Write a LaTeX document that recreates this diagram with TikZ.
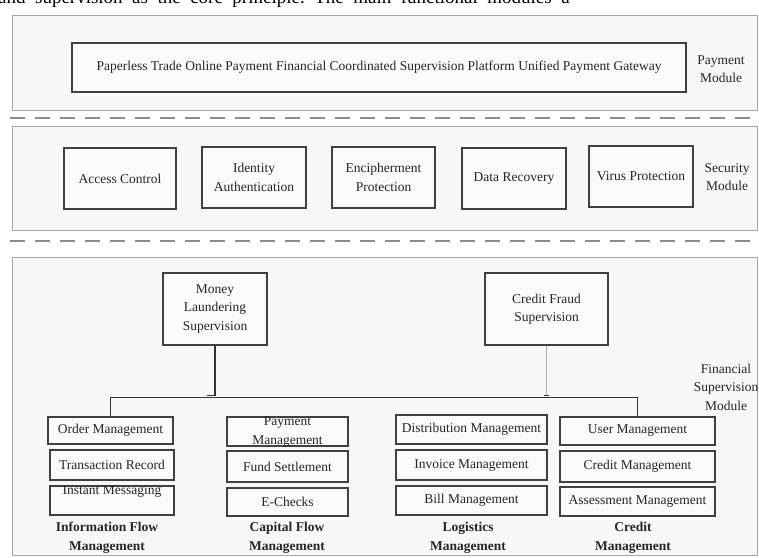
\documentclass[tikz,border=0pt]{standalone}
\usepackage{fontspec}
\setmainfont{Liberation Serif}
\begin{document}
\begin{tikzpicture}[x=1pt,y=-1pt,
  every node/.style={text=black!85, font=\fontsize{13.5}{18.5}\selectfont},
  panel/.style={draw=black!35, fill=black!3, line width=0.9pt},
  sep/.style={draw=black!45, line width=2.3pt, dash pattern=on 15pt off 10pt, dash phase=15pt},
  mbox/.style={draw=black!75, fill=black!2, line width=1.2pt, inner sep=0pt, align=center},
  lbl/.style={align=center},
  blbl/.style={align=center, font=\fontsize{13.5}{19}\selectfont\bfseries},
  conn/.style={draw=black!80, line width=1.1pt}
]
\useasboundingbox (0,0) rectangle (759,557);
\fill[white] (0,0) rectangle (759,557);
% cut-off paper text at the top
\begin{scope}
\clip (0,0) rectangle (759,557);
\node[anchor=base west, inner sep=0pt, font=\fontsize{19}{19}\selectfont, text=black] (para) at (-2,3) {and\ \ supervision\ \ as\ \ the\ \ core\ \ principle.\ \ The\ \ main\ \ functional\ \ modules\ \ a};
\end{scope}
% panels
\draw[panel] (12,15) rectangle (757,110);
\draw[panel] (12,126) rectangle (757,230);
\draw[panel] (12,257) rectangle (757,555);
\draw[sep] (0,118) -- (759,118);
\draw[sep] (0,241) -- (759,241);
% payment module
\node[mbox, minimum width=614pt, minimum height=49pt] (pay) at (379,67.5) {Paperless Trade Online Payment Financial Coordinated Supervision Platform Unified Payment Gateway};
\node[lbl] (paymod) at (721,69) {Payment\\Module};
% security module
\node[mbox, minimum width=112pt, minimum height=61pt] (ac) at (120,178.5) {Access Control};
\node[mbox, minimum width=104pt, minimum height=61pt] (id) at (254,177.5) {Identity\\Authentication};
\node[mbox, minimum width=103pt, minimum height=61pt] (enc) at (383.5,177.5) {Encipherment\\Protection};
\node[mbox, minimum width=104pt, minimum height=61pt] (dr) at (514,178.5) {Data Recovery};
\node[mbox, minimum width=104pt, minimum height=61pt] (vp) at (641,176.5) {Virus Protection};
\node[lbl] (secmod) at (727,177) {Security\\Module};
% financial supervision module
\node[mbox, minimum width=104pt, minimum height=72pt] (ml) at (215,309) {Money\\Laundering\\Supervision};
\node[mbox, minimum width=123pt, minimum height=72pt] (cf) at (546.5,309) {Credit Fraud\\Supervision};
\node[lbl, inner sep=0pt] (finmod) at (726,387) {Financial\\Supervision\\Module};
% column 1
\node[mbox, minimum width=125pt, minimum height=27pt] (om) at (110.5,430.5) {Order Management};
\node[mbox, minimum width=124pt, minimum height=30pt] (tr) at (112,465) {Transaction Record};
\node[mbox, minimum width=124pt, minimum height=29pt] (im) at (112,500.5) {};
\node[lbl] (imt) at (112,491) {Instant Messaging};
\node[blbl] (ifm) at (107,537.5) {Information Flow\\Management};
% column 2
\node[mbox, minimum width=121pt, minimum height=29pt] (pm) at (287.5,431.5) {};
\node[lbl] (pmt) at (287.5,432) {Payment\\Management};
\node[mbox, minimum width=121pt, minimum height=31pt] (fs) at (287.5,466.5) {Fund Settlement};
\node[mbox, minimum width=121pt, minimum height=28pt] (ec) at (287.5,502) {E-Checks};
\node[blbl] (cfm) at (287,537.5) {Capital Flow\\Management};
% column 3
\node[mbox, minimum width=151pt, minimum height=29pt] (dm) at (471.5,429.5) {Distribution Management};
\node[mbox, minimum width=151pt, minimum height=30pt] (inv) at (471.5,465) {Invoice Management};
\node[mbox, minimum width=151pt, minimum height=29pt] (bm) at (471.5,500.5) {Bill Management};
\node[blbl] (lm) at (468,537.5) {Logistics\\Management};
% column 4
\node[mbox, minimum width=155pt, minimum height=28pt] (um) at (637.5,431) {User Management};
\node[mbox, minimum width=155pt, minimum height=31pt] (cm) at (637.5,466.5) {Credit Management};
\node[mbox, minimum width=155pt, minimum height=29pt] (am) at (637.5,501.5) {Assessment Management};
\node[blbl] (crm) at (633,537.5) {Credit\\Management};
% connectors
\draw[conn] (om.north) -- ++(0,-19) -| (um.north);
\draw[conn] (ml.south) -- ++(0,50) -- ++(-8,0);
\draw[draw=black!30, line width=0.6pt] (cf.south) -- ++(0,50);
\draw[conn] (cf.south) ++(-2.5,50) -- ++(5,0);
\end{tikzpicture}
\end{document}
